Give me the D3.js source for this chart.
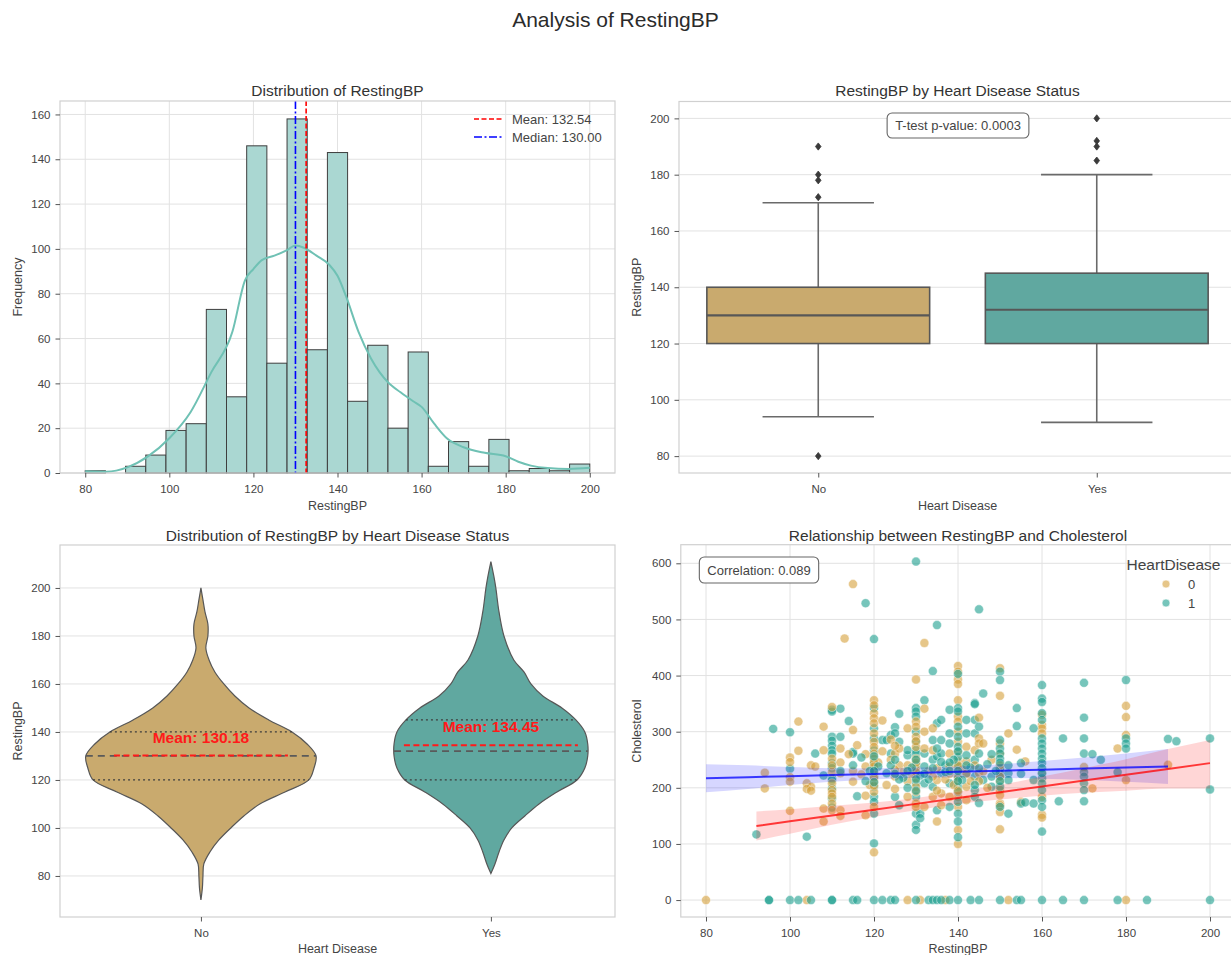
<!DOCTYPE html>
<html>
<head>
<meta charset="utf-8">
<script src="https://cdn.jsdelivr.net/npm/d3@7"></script>
<style>
  body { margin: 0; background: #fff; }
  svg text { font-family: "Liberation Sans", Arial, sans-serif; }
</style>
</head>
<body>
<svg id="chart" width="1231" height="955"></svg>
<script>
// ---------------- data ----------------
// Histogram of RestingBP (25 bins)
const binEdges = [80, 84.8, 89.6, 94.4, 99.2, 104, 108.8, 113.6, 118.4, 123.2, 128, 132.8, 137.6,
  142.4, 147.2, 152, 156.8, 161.6, 166.4, 171.2, 176, 180.8, 185.6, 190.4, 195.2, 200];
const binCounts = [1, 0, 3, 8, 19, 22, 73, 34, 146, 49, 158, 55, 143, 32, 57, 20, 54, 3, 14, 3, 15, 1, 2, 1, 4];
// KDE curve (scaled to counts)
const kdeX = [80, 85, 90, 95, 100, 105, 110, 115, 118, 120, 122, 125, 128, 130, 132, 135, 138, 140, 142, 145,
  148, 150, 152, 155, 158, 160, 163, 166, 170, 175, 180, 183, 186, 190, 195, 200];
const kdeY = [0.8, 0.6, 2.5, 7.5, 15.5, 27, 45, 63, 86, 91, 95, 97, 99.5, 101.5, 100.5, 97, 93, 88, 79, 63,
  51, 45, 40.5, 36, 32, 29.5, 22, 15.5, 11.5, 9, 7.5, 5, 3.3, 2.2, 1.8, 2.3];
const meanBP = 132.54;
const medianBP = 130.00;

// Box plot by heart disease status
const statusLabels = ["No", "Yes"];
const boxQ1 = [120, 120];
const boxMedian = [130, 132];
const boxQ3 = [140, 145];
const whiskerLow = [94, 92];
const whiskerHigh = [170, 180];
const outliersNo = [80, 172, 178, 180, 190];
const outliersYes = [185, 190, 192, 200];
const pValue = "0.0003";

// Violin density profiles (half-width as fraction of a category slot)
const violinNoVals = [70, 75, 80, 85, 90, 95, 100, 105, 110, 115, 120, 125, 130, 135, 140, 145, 150, 155,
  160, 165, 170, 175, 180, 185, 190, 195, 200];
const violinNoWidth = [0, .005, .007, .010, .031, .062, .103, .148, .203, .290, .372, .390, .397, .366, .314,
  .234, .166, .117, .079, .048, .028, .017, .024, .024, .014, .007, 0];
const violinYesVals = [81, 85, 90, 95, 100, 105, 110, 115, 120, 125, 130, 135, 140, 145, 150, 155, 160, 165,
  170, 180, 190, 200, 205, 211];
const violinYesWidth = [0, .014, .028, .045, .072, .117, .166, .228, .297, .324, .334, .334, .324, .293, .245,
  .179, .138, .114, .079, .045, .028, .017, .010, 0];
const violinQ1 = [120, 120];
const violinMedian = [130, 132];
const violinQ3 = [140, 145];
const groupMeans = [130.18, 134.45];

// RestingBP vs Cholesterol, HeartDisease = 0
const noPts = [
  [80, 0], [104, 0], [128, 0], [131, 0], [137, 0], [152, 0], [180, 0],
  [115, 563], [113, 466], [132, 458], [130, 393],
  [140, 417], [140, 407], [140, 393], [140, 385], [140, 356], [140, 327], [140, 318], [140, 300], [140, 282],
  [140, 264], [140, 247], [140, 229], [140, 211], [140, 184], [140, 166], [140, 125], [140, 100],
  [150, 413], [150, 364], [150, 279], [150, 261], [150, 232], [150, 211], [150, 196], [150, 187], [150, 172],
  [150, 169], [150, 157], [150, 126],
  [160, 330], [160, 312], [160, 306], [160, 297], [160, 226], [160, 184], [160, 152], [160, 147],
  [170, 237], [172, 199], [178, 270], [180, 346], [180, 326], [180, 294], [180, 214], [190, 241],
  [94, 227], [94, 199], [100, 254], [100, 246], [100, 219], [100, 211], [100, 159], [102, 318], [102, 266],
  [105, 240], [106, 238], [104, 208], [105, 202], [104, 198], [105, 195],
  [108, 309], [108, 267], [108, 163], [108, 140],
  [110, 344], [110, 252], [110, 228], [110, 208], [110, 196], [110, 190], [110, 184], [110, 172], [110, 160],
  [112, 270], [112, 226], [112, 160], [112, 150], [115, 303], [114, 260], [115, 211], [116, 276], [118, 151],
  [118, 186],
  [120, 356], [120, 347], [120, 333], [120, 324], [120, 315], [120, 297], [120, 282], [120, 273], [120, 261],
  [120, 252], [120, 235], [120, 226], [120, 211], [120, 193], [120, 166], [120, 85],
  [122, 320], [125, 261], [125, 220], [128, 306], [128, 184],
  [130, 318], [130, 309], [130, 291], [130, 273], [130, 252], [130, 235], [130, 217], [130, 202], [130, 193],
  [130, 172], [130, 166],
  [132, 341], [132, 300], [132, 166], [134, 306], [134, 267], [134, 184], [135, 214], [135, 140], [136, 190],
  [136, 169], [138, 261], [138, 238], [138, 184], [142, 273], [142, 247], [142, 202], [142, 178], [144, 267],
  [145, 325], [145, 288], [145, 279], [145, 226], [146, 279], [146, 229], [148, 250], [152, 297], [154, 268],
  [155, 175], [156, 247],
  [118, 238], [117, 224], [119, 205], [121, 245], [123, 205], [124, 250], [126, 240], [127, 228], [129, 224],
  [133, 230], [137, 215], [139, 205], [141, 233], [143, 212], [147, 200], [126, 270], [124, 286],
  [120, 245], [120, 238], [120, 218], [120, 204], [125, 232], [125, 275], [125, 198], [128, 240], [128, 212],
  [130, 245], [130, 228], [130, 283], [134, 220], [135, 235], [135, 195], [138, 225], [140, 240], [140, 218],
  [140, 195], [142, 225], [144, 240], [145, 212], [150, 240], [150, 220], [112, 245], [110, 240], [115, 230],
  [118, 260], [122, 265], [132, 270]
];
// RestingBP vs Cholesterol, HeartDisease = 1
const yesPts = [
  [95, 0], [95, 0], [100, 0], [102, 0], [105, 0], [110, 0], [110, 0], [115, 0], [116, 0], [120, 0], [122, 0],
  [124, 0], [125, 0], [130, 0], [133, 0], [134, 0], [135, 0], [136, 0], [138, 0], [140, 0], [143, 0], [145, 0],
  [150, 0], [154, 0], [155, 0], [160, 0], [165, 0], [170, 0], [178, 0], [185, 0], [200, 0],
  [130, 603], [118, 529], [145, 518], [135, 490], [120, 465], [134, 408],
  [92, 117], [96, 305], [100, 299], [100, 234], [104, 113], [106, 261],
  [110, 339], [110, 336], [110, 291], [110, 284], [110, 275], [110, 267], [110, 261], [110, 244], [110, 235],
  [110, 217], [110, 214], [110, 199], [110, 181], [110, 165],
  [112, 341], [112, 291], [114, 319], [115, 264], [115, 261], [116, 185],
  [120, 342], [120, 306], [120, 288], [120, 267], [120, 244], [120, 220], [120, 202], [120, 184], [120, 175],
  [120, 154], [120, 101],
  [122, 285], [123, 285], [124, 261], [124, 294], [125, 308], [125, 297], [125, 184], [126, 332], [126, 282],
  [126, 169], [128, 258], [128, 267],
  [130, 342], [130, 336], [130, 327], [130, 300], [130, 282], [130, 267], [130, 261], [130, 241], [130, 226],
  [130, 208], [130, 184], [130, 154], [130, 134], [130, 125],
  [132, 356], [132, 261], [132, 208], [131, 154], [131, 146], [134, 285], [134, 250], [134, 202], [135, 315],
  [135, 256], [135, 160], [136, 321], [136, 285], [136, 261], [136, 226], [137, 240],
  [138, 339], [138, 297], [138, 279], [138, 208], [138, 166],
  [140, 403], [140, 342], [140, 336], [140, 309], [140, 291], [140, 273], [140, 255], [140, 238], [140, 220],
  [140, 202], [140, 193], [140, 175], [140, 154], [140, 140], [140, 112],
  [142, 321], [142, 297], [142, 226], [144, 351], [144, 349], [144, 321], [144, 297], [144, 250], [144, 220],
  [144, 196], [144, 184], [145, 309], [145, 261], [145, 173], [146, 368], [146, 214], [148, 202], [148, 220],
  [150, 407], [150, 392], [150, 285], [150, 270], [150, 261], [150, 252], [150, 235], [150, 226], [150, 220],
  [150, 202], [150, 166],
  [152, 226], [152, 214], [152, 154], [154, 342], [154, 310], [155, 244], [155, 172], [156, 174], [158, 306],
  [158, 214], [158, 172],
  [160, 383], [160, 359], [160, 353], [160, 333], [160, 321], [160, 288], [160, 279], [160, 270], [160, 261],
  [160, 252], [160, 244], [160, 235], [160, 217], [160, 208], [160, 196], [160, 178], [160, 166], [160, 122],
  [165, 288], [164, 176],
  [170, 387], [170, 325], [170, 288], [170, 261], [170, 228], [170, 220], [170, 208], [170, 196], [170, 176],
  [172, 260], [174, 250], [178, 228], [180, 392], [180, 288], [180, 279], [180, 270],
  [190, 287], [192, 283], [200, 288], [200, 197],
  [118, 212], [119, 230], [121, 238], [123, 226], [127, 218], [129, 236], [131, 222], [133, 215], [137, 228],
  [139, 250], [141, 214], [143, 236], [147, 242], [149, 230], [128, 200], [126, 215], [132, 238], [136, 246],
  [142, 258], [117, 254],
  [120, 230], [120, 256], [120, 210], [124, 240], [125, 225], [125, 250], [128, 230], [130, 250], [130, 215],
  [130, 195], [132, 225], [134, 235], [135, 270], [138, 245], [138, 230], [140, 265], [140, 230], [140, 212],
  [142, 240], [144, 205], [145, 235], [148, 260], [150, 245], [150, 212], [152, 240], [155, 225], [160, 226],
  [115, 240], [112, 230], [108, 222]
];
const correlation = "0.089";
// Linear fits with 95% confidence bands per group
const fitNoX = [80, 90, 100, 110, 120, 130, 140, 150, 160, 170, 180, 190];
const fitNoY = [217, 218.9, 220.8, 222.7, 224.6, 226.5, 228.5, 230.4, 232.3, 234.2, 236.1, 238];
const fitNoLo = [192, 198, 205, 211, 215, 218, 219, 218, 216, 214, 211, 207];
const fitNoHi = [242, 240, 237, 235, 235, 236, 238, 242, 248, 254, 261, 269];
const fitYesX = [92, 100, 110, 120, 130, 140, 150, 160, 170, 180, 190, 200];
const fitYesY = [132, 140.3, 150.7, 161, 171.4, 181.8, 192.1, 202.5, 212.9, 223.2, 233.6, 244];
const fitYesLo = [106, 118, 134, 148, 160, 171, 179, 186, 191, 195, 199, 199];
const fitYesHi = [158, 162, 168, 174, 182, 193, 205, 220, 235, 251, 269, 285];

const xTicksBP = [80, 100, 120, 140, 160, 180, 200];
const yTicksFreq = [0, 20, 40, 60, 80, 100, 120, 140, 160];
const yTicksBP = [80, 100, 120, 140, 160, 180, 200];
const yTicksChol = [0, 100, 200, 300, 400, 500, 600];

// ---------------- style ----------------
const GRID = "#e2e2e2", SPINE = "#d0d0d0", TICK = "#555", TXT = "#444", TITLE = "#333";
const TAN = "#c9aa6e", TEAL = "#60a8a0", EDGE = "#575757";
const PT_TAN = "#d6a03a", PT_TEAL = "#1b9f8e";

const svg = d3.select("#chart");
svg.append("rect").attr("width", 1231).attr("height", 955).attr("fill", "#fff");

function label(x, y, str, size, opts = {}) {
  const t = svg.append("text").attr("x", x).attr("y", y).text(str)
    .attr("font-size", size).attr("fill", opts.fill || TXT)
    .attr("text-anchor", opts.anchor || "middle");
  if (opts.rotate) t.attr("transform", `rotate(-90,${x},${y})`);
  if (opts.weight) t.attr("font-weight", opts.weight);
  return t;
}

function grid(box, xs, ys, xTicks, yTicks) {
  const g = svg.append("g");
  if (xTicks) g.selectAll(null).data(xTicks).join("line")
    .attr("x1", d => xs(d)).attr("x2", d => xs(d)).attr("y1", box.t).attr("y2", box.b)
    .attr("stroke", GRID).attr("stroke-width", 1);
  if (yTicks) g.selectAll(null).data(yTicks).join("line")
    .attr("y1", d => ys(d)).attr("y2", d => ys(d)).attr("x1", box.l).attr("x2", box.r)
    .attr("stroke", GRID).attr("stroke-width", 1);
}

function axes(box, xs, ys, xTicks, yTicks, xFmt) {
  svg.append("rect").attr("x", box.l).attr("y", box.t)
    .attr("width", box.r - box.l).attr("height", box.b - box.t)
    .attr("fill", "none").attr("stroke", SPINE).attr("stroke-width", 1.2);
  const ya = svg.append("g").attr("transform", `translate(${box.l},0)`)
    .call(d3.axisLeft(ys).tickValues(yTicks).tickSize(4.5).tickPadding(5).tickFormat(d3.format("d")));
  const xa = svg.append("g").attr("transform", `translate(0,${box.b})`)
    .call(d3.axisBottom(xs).tickValues(xTicks).tickSize(4.5).tickPadding(7)
      .tickFormat(xFmt || d3.format("d")));
  [ya, xa].forEach(a => {
    a.select(".domain").remove();
    a.selectAll(".tick line").attr("stroke", TICK).attr("stroke-width", 1);
    a.selectAll(".tick text").attr("fill", TXT).attr("font-size", 11.5)
      .attr("font-family", '"Liberation Sans", Arial, sans-serif');
  });
}

// ---------------- suptitle ----------------
label(615.5, 27, "Analysis of RestingBP", 21, { fill: "#2b2b2b" });

// ================= 1. Histogram =================
{
  const box = { l: 60, r: 615, t: 101, b: 473 };
  const x = d3.scaleLinear().domain([74, 206]).range([box.l, box.r]);
  const y = d3.scaleLinear().domain([0, 166]).range([box.b, box.t]);
  grid(box, x, y, xTicksBP, yTicksFreq);

  svg.append("g").selectAll("rect").data(binCounts).join("rect")
    .attr("x", (d, i) => x(binEdges[i]))
    .attr("width", (d, i) => x(binEdges[i + 1]) - x(binEdges[i]))
    .attr("y", d => y(d)).attr("height", d => y(0) - y(d))
    .attr("fill", "#aad7d2").attr("stroke", "#3e3e3e").attr("stroke-width", 1);

  const kdeLine = d3.line().x(d => x(d[0])).y(d => y(d[1])).curve(d3.curveMonotoneX);
  svg.append("path").datum(kdeX.map((v, i) => [v, kdeY[i]])).attr("d", kdeLine)
    .attr("fill", "none").attr("stroke", "#6fc1b4").attr("stroke-width", 2);

  svg.append("line").attr("x1", x(meanBP)).attr("x2", x(meanBP)).attr("y1", box.t).attr("y2", box.b)
    .attr("stroke", "#ff0000").attr("stroke-width", 1.6).attr("stroke-dasharray", "5,2.5");
  svg.append("line").attr("x1", x(medianBP)).attr("x2", x(medianBP)).attr("y1", box.t).attr("y2", box.b)
    .attr("stroke", "#0000ff").attr("stroke-width", 1.6).attr("stroke-dasharray", "8,2.5,2,2.5");

  axes(box, x, y, xTicksBP, yTicksFreq);
  label((box.l + box.r) / 2, 95.5, "Distribution of RestingBP", 15.5, { fill: TITLE });
  label((box.l + box.r) / 2, 509.5, "RestingBP", 12.5);
  label(21.5, (box.t + box.b) / 2, "Frequency", 12.5, { rotate: true });

  // legend
  const lg = [
    { y: 119, color: "#ff0000", dash: "5,2.5", text: `Mean: ${meanBP.toFixed(2)}` },
    { y: 137, color: "#0000ff", dash: "8,2.5,2,2.5", text: `Median: ${medianBP.toFixed(2)}` }
  ];
  lg.forEach(e => {
    svg.append("line").attr("x1", 474).attr("x2", 503).attr("y1", e.y).attr("y2", e.y)
      .attr("stroke", e.color).attr("stroke-width", 1.6).attr("stroke-dasharray", e.dash);
    label(512, e.y + 4.5, e.text, 13, { anchor: "start" });
  });
}

// ================= 2. Box plot =================
{
  const box = { l: 679, r: 1236, t: 101.5, b: 473 };
  const x = d3.scaleLinear().domain([-0.5, 1.5]).range([box.l, box.r]);
  const y = d3.scaleLinear().domain([74, 206]).range([box.b, box.t]);
  grid(box, x, y, null, yTicksBP);
  const fills = [TAN, TEAL];
  const outs = [outliersNo, outliersYes];
  statusLabels.forEach((s, i) => {
    const g = svg.append("g");
    // whiskers
    g.append("line").attr("x1", x(i)).attr("x2", x(i)).attr("y1", y(boxQ1[i])).attr("y2", y(whiskerLow[i]))
      .attr("stroke", "#6a6a6a").attr("stroke-width", 1.6);
    g.append("line").attr("x1", x(i)).attr("x2", x(i)).attr("y1", y(boxQ3[i])).attr("y2", y(whiskerHigh[i]))
      .attr("stroke", "#6a6a6a").attr("stroke-width", 1.6);
    [whiskerLow[i], whiskerHigh[i]].forEach(v => {
      g.append("line").attr("x1", x(i - 0.2)).attr("x2", x(i + 0.2)).attr("y1", y(v)).attr("y2", y(v))
        .attr("stroke", "#6a6a6a").attr("stroke-width", 1.6);
    });
    g.append("rect").attr("x", x(i - 0.4)).attr("width", x(i + 0.4) - x(i - 0.4))
      .attr("y", y(boxQ3[i])).attr("height", y(boxQ1[i]) - y(boxQ3[i]))
      .attr("fill", fills[i]).attr("stroke", EDGE).attr("stroke-width", 1.6);
    g.append("line").attr("x1", x(i - 0.4)).attr("x2", x(i + 0.4))
      .attr("y1", y(boxMedian[i])).attr("y2", y(boxMedian[i]))
      .attr("stroke", EDGE).attr("stroke-width", 2.2);
    g.selectAll("path.out").data(outs[i]).join("path")
      .attr("d", d => `M${x(i)},${y(d) - 3.6}L${x(i) + 2.8},${y(d)}L${x(i)},${y(d) + 3.6}L${x(i) - 2.8},${y(d)}Z`)
      .attr("fill", "#3a3a3a").attr("stroke", "#3a3a3a").attr("stroke-width", 0.8);
  });
  axes(box, x, y, [0, 1], yTicksBP, d => statusLabels[d]);
  label(957.5, 95.5, "RestingBP by Heart Disease Status", 15.5, { fill: TITLE });
  label(957.5, 510, "Heart Disease", 12.5);
  label(641, (box.t + box.b) / 2, "RestingBP", 12.5, { rotate: true });

  // t-test annotation
  const t = label(958, 130, `T-test p-value: ${pValue}`, 13);
  const w = t.node().getComputedTextLength();
  svg.insert("rect", () => t.node()).attr("x", 958 - w / 2 - 8).attr("y", 113).attr("width", w + 16)
    .attr("height", 25).attr("rx", 5).attr("fill", "#fff").attr("stroke", "#666").attr("stroke-width", 1.1);
}

// ================= 3. Violin plot =================
{
  const box = { l: 60, r: 615, t: 545, b: 917 };
  const x = d3.scaleLinear().domain([-0.486, 1.428]).range([box.l, box.r]);
  const y = d3.scaleLinear().domain([62.9, 217.9]).range([box.b, box.t]);
  grid(box, x, y, null, yTicksBP);
  const profiles = [[violinNoVals, violinNoWidth], [violinYesVals, violinYesWidth]];
  const fills = [TAN, TEAL];
  statusLabels.forEach((s, i) => {
    const [vals, widths] = profiles[i];
    const pts = vals.map((v, k) => [v, widths[k]]);
    const area = d3.area().y(d => y(d[0])).x0(d => x(i - d[1])).x1(d => x(i + d[1]))
      .curve(d3.curveCatmullRom.alpha(0.5));
    svg.append("path").datum(pts).attr("d", area)
      .attr("fill", fills[i]).attr("stroke", EDGE).attr("stroke-width", 1.2);
    const halfAt = d3.scaleLinear().domain(vals).range(widths);
    // quartile lines
    [violinQ1[i], violinQ3[i]].forEach(q => {
      const hw = halfAt(q);
      svg.append("line").attr("x1", x(i - hw)).attr("x2", x(i + hw)).attr("y1", y(q)).attr("y2", y(q))
        .attr("stroke", "#3d3d3d").attr("stroke-width", 1.3).attr("stroke-dasharray", "2,3");
    });
    const hm = halfAt(violinMedian[i]);
    svg.append("line").attr("x1", x(i - hm)).attr("x2", x(i + hm))
      .attr("y1", y(violinMedian[i])).attr("y2", y(violinMedian[i]))
      .attr("stroke", "#5a5a5a").attr("stroke-width", 1.8).attr("stroke-dasharray", "7,5");
    // group mean
    svg.append("line").attr("x1", x(i - 0.3)).attr("x2", x(i + 0.3))
      .attr("y1", y(groupMeans[i])).attr("y2", y(groupMeans[i]))
      .attr("stroke", "#ff1a1a").attr("stroke-width", 2).attr("stroke-dasharray", "6,3.5");
    label(x(i), y(groupMeans[i] + 5) - 1, `Mean: ${groupMeans[i].toFixed(2)}`, 15.5,
      { fill: "#ff1a1a", weight: "bold" });
  });
  axes(box, x, y, [0, 1], yTicksBP, d => statusLabels[d]);
  label((box.l + box.r) / 2, 540.5, "Distribution of RestingBP by Heart Disease Status", 15.5, { fill: TITLE });
  label((box.l + box.r) / 2, 952.5, "Heart Disease", 12.5);
  label(21.5, (box.t + box.b) / 2, "RestingBP", 12.5, { rotate: true });
}

// ================= 4. Scatter with fits =================
{
  const box = { l: 680.8, r: 1235.2, t: 544.7, b: 917 };
  const x = d3.scaleLinear().domain([74, 206]).range([box.l, box.r]);
  const y = d3.scaleLinear().domain([-30.15, 633.15]).range([box.b, box.t]);
  grid(box, x, y, xTicksBP, yTicksChol);

  const pts = [];
  const n = Math.max(noPts.length, yesPts.length);
  for (let i = 0; i < n; i++) {
    if (i < noPts.length) pts.push({ bp: noPts[i][0], chol: noPts[i][1], hd: 0 });
    if (i < yesPts.length) pts.push({ bp: yesPts[i][0], chol: yesPts[i][1], hd: 1 });
  }
  svg.append("g").selectAll("circle").data(pts).join("circle")
    .attr("cx", d => x(d.bp)).attr("cy", d => y(d.chol)).attr("r", 4.5)
    .attr("fill", d => d.hd ? PT_TEAL : PT_TAN).attr("fill-opacity", 0.6)
    .attr("stroke", "#fff").attr("stroke-opacity", 0.7).attr("stroke-width", 0.6);

  const fits = [
    { X: fitNoX, Y: fitNoY, lo: fitNoLo, hi: fitNoHi, color: "#0000ff" },
    { X: fitYesX, Y: fitYesY, lo: fitYesLo, hi: fitYesHi, color: "#ff0000" }
  ];
  fits.forEach(f => {
    const band = d3.area().x((d, k) => x(f.X[k])).y0((d, k) => y(f.lo[k])).y1((d, k) => y(f.hi[k]))
      .curve(d3.curveMonotoneX);
    svg.append("path").datum(f.X).attr("d", band).attr("fill", f.color).attr("fill-opacity", 0.16);
  });
  fits.forEach(f => {
    const line = d3.line().x((d, k) => x(f.X[k])).y((d, k) => y(f.Y[k]));
    svg.append("path").datum(f.X).attr("d", line).attr("fill", "none")
      .attr("stroke", f.color).attr("stroke-opacity", 0.75).attr("stroke-width", 2);
  });

  axes(box, x, y, xTicksBP, yTicksChol);
  label(958, 540.5, "Relationship between RestingBP and Cholesterol", 15.5, { fill: TITLE });
  label(958, 952.5, "RestingBP", 12.5);
  label(641, 731, "Cholesterol", 12.5, { rotate: true });

  // correlation annotation
  const t = label(759, 575, `Correlation: ${correlation}`, 13);
  const w = t.node().getComputedTextLength();
  svg.insert("rect", () => t.node()).attr("x", 759 - w / 2 - 8).attr("y", 557).attr("width", w + 16)
    .attr("height", 26).attr("rx", 5).attr("fill", "#fff").attr("stroke", "#666").attr("stroke-width", 1.1);

  // legend
  label(1173.5, 569.5, "HeartDisease", 15.5);
  [{ k: "0", c: PT_TAN, y: 584 }, { k: "1", c: PT_TEAL, y: 603 }].forEach(e => {
    svg.append("circle").attr("cx", 1166).attr("cy", e.y).attr("r", 4)
      .attr("fill", e.c).attr("fill-opacity", 0.6).attr("stroke", "#fff").attr("stroke-width", 0.6);
    label(1188, e.y + 4.5, e.k, 13, { anchor: "start" });
  });
}
</script>
</body>
</html>
